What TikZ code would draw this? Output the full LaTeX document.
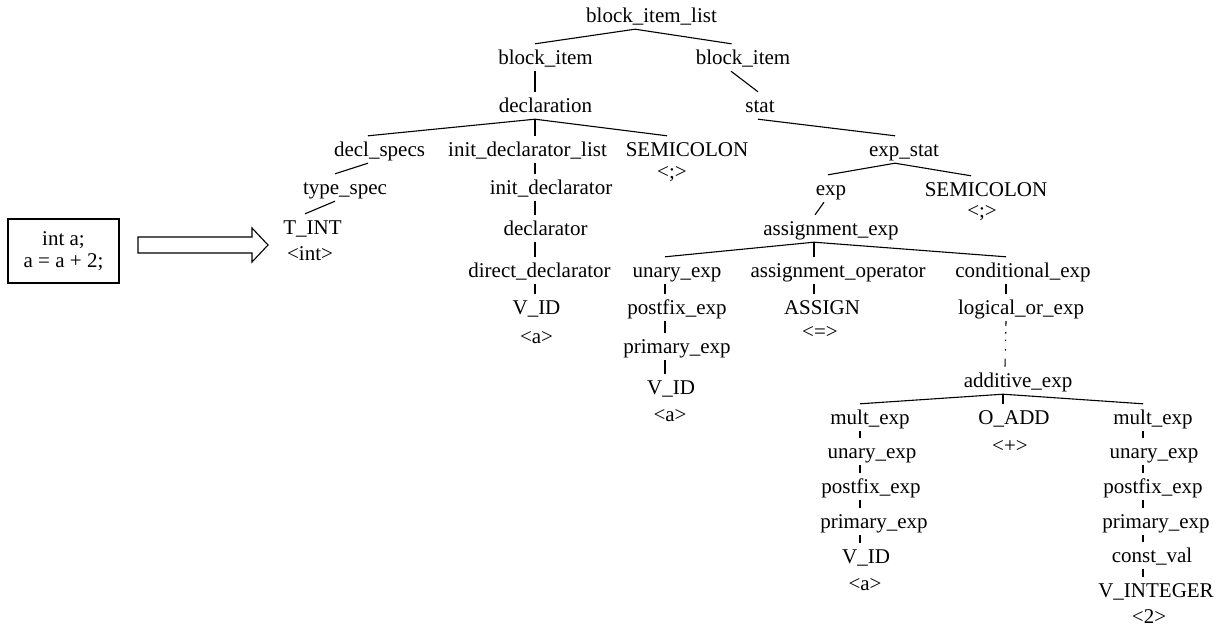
\documentclass[tikz,border=0pt]{standalone}
\usepackage{fontspec}
\setmainfont{Liberation Serif}
\begin{document}
\begin{tikzpicture}[x=1pt,y=-1pt,
  lbl/.style={inner sep=0pt,anchor=base,text height=20pt,text depth=7pt,font=\fontsize{21}{25}\selectfont},
  edge/.style={line width=1.1pt},
  dotedge/.style={line width=1.1pt,dash pattern=on 5pt off 6pt on 1.5pt off 6pt on 1.5pt off 8pt on 1.5pt off 8pt on 8pt}]
\useasboundingbox (0,0) rectangle (1221,629);
% source box and arrow
\node[draw,line width=1.1pt,minimum width=111pt,minimum height=64pt,inner sep=0pt,align=center,
  font=\fontsize{21}{22}\selectfont] (src) at (63.5,251) {int a;\\a = a + 2;};
\draw[line width=1.1pt] (138,237) -- (252,237) -- (252,228) -- (268,245) -- (252,262) -- (252,253) -- (138,253) -- cycle;
% nodes
\node[lbl] (n0) at (651.5,22) {block\_item\_list};
\node[lbl] (n1) at (545.5,64) {block\_item};
\node[lbl] (n2) at (743,64) {block\_item};
\node[lbl] (n3) at (545.5,112) {declaration};
\node[lbl] (n4) at (760,112) {stat};
\node[lbl] (n5) at (379.5,156) {decl\_specs};
\node[lbl] (n6) at (527.5,156) {init\_declarator\_list};
\node[lbl] (n7) at (687,156) {SEMICOLON};
\node[lbl] (n7b) at (672,178) {<;>};
\node[lbl] (n8) at (904,156) {exp\_stat};
\node[lbl] (n9) at (345,194) {type\_spec};
\node[lbl] (n10) at (551,194) {init\_declarator};
\node[lbl] (n11) at (831,195) {exp};
\node[lbl] (n12) at (986,196) {SEMICOLON};
\node[lbl] (n12b) at (982,217) {<;>};
\node[lbl] (n13) at (312.5,234) {T\_INT};
\node[lbl] (n13b) at (310,260) {<int>};
\node[lbl] (n14) at (545.5,235) {declarator};
\node[lbl] (n15) at (831,235) {assignment\_exp};
\node[lbl] (n16) at (539.5,277) {direct\_declarator};
\node[lbl] (n17) at (677,277) {unary\_exp};
\node[lbl] (n18) at (838,277) {assignment\_operator};
\node[lbl] (n19) at (1023,277) {conditional\_exp};
\node[lbl] (n20) at (536.5,314) {V\_ID};
\node[lbl] (n20b) at (536.5,343) {<a>};
\node[lbl] (n21) at (677,314) {postfix\_exp};
\node[lbl] (n22) at (822,314) {ASSIGN};
\node[lbl] (n22b) at (820,338) {<=>};
\node[lbl] (n23) at (1021,314) {logical\_or\_exp};
\node[lbl] (n24) at (677,353) {primary\_exp};
\node[lbl] (n25) at (671,394) {V\_ID};
\node[lbl] (n25b) at (670,421) {<a>};
\node[lbl] (n26) at (1018,387) {additive\_exp};
\node[lbl] (n27) at (870,424) {mult\_exp};
\node[lbl] (n28) at (1014,424) {O\_ADD};
\node[lbl] (n28b) at (1010,452) {<+>};
\node[lbl] (n29) at (1153,424) {mult\_exp};
\node[lbl] (n30) at (872,458) {unary\_exp};
\node[lbl] (n31) at (871,493) {postfix\_exp};
\node[lbl] (n32) at (874,528) {primary\_exp};
\node[lbl] (n33) at (866,563) {V\_ID};
\node[lbl] (n33b) at (865,590) {<a>};
\node[lbl] (n34) at (1154,458) {unary\_exp};
\node[lbl] (n35) at (1153,493) {postfix\_exp};
\node[lbl] (n36) at (1156,528) {primary\_exp};
\node[lbl] (n37) at (1152,562) {const\_val};
\node[lbl] (n38) at (1156,597) {V\_INTEGER};
\node[lbl] (n38b) at (1149,623) {<2>};
% edges
\draw[edge] ([xshift=-16.5pt]n0.south) -- ([xshift=-10.5pt]n1.north);
\draw[edge] ([xshift=-16.5pt]n0.south) -- ([xshift=-11.5pt]n2.north);
\draw[edge] ([xshift=-10.5pt]n1.south) -- ([xshift=-10.5pt]n3.north);
\draw[edge] ([xshift=-12pt]n2.south) -- ([xshift=-2pt]n4.north);
\draw[edge] ([xshift=-10.5pt]n3.south) -- ([xshift=-11.5pt]n5.north);
\draw[edge] ([xshift=-10.5pt]n3.south) -- ([xshift=7.5pt]n6.north);
\draw[edge] ([xshift=-10.5pt]n3.south) -- ([xshift=-20pt]n7.north);
\draw[edge] ([xshift=-2pt]n4.south) -- ([xshift=-9pt]n8.north);
\draw[edge] ([xshift=-11.5pt]n5.south) -- ([xshift=-10pt]n9.north);
\draw[edge] ([xshift=7.5pt]n6.south) -- ([xshift=-16pt]n10.north);
\draw[edge] ([xshift=-9pt]n8.south) -- ([xshift=-3pt]n11.north);
\draw[edge] ([xshift=-9pt]n8.south) -- ([xshift=-15pt]n12.north);
\draw[edge] ([xshift=-10pt]n9.south) -- ([xshift=-7.5pt]n13.north);
\draw[edge] ([xshift=-16pt]n10.south) -- ([xshift=-10.5pt]n14.north);
\draw[edge] ([xshift=-7pt]n11.south) -- ([xshift=-16pt]n15.north);
\draw[edge] ([xshift=-10.5pt]n14.south) -- ([xshift=-4.5pt]n16.north);
\draw[edge] ([xshift=-17pt]n15.south) -- ([xshift=-12pt]n17.north);
\draw[edge] ([xshift=-17pt]n15.south) -- ([xshift=-24pt]n18.north);
\draw[edge] ([xshift=-17pt]n15.south) -- ([xshift=-17pt]n19.north);
\draw[edge] ([xshift=-4.5pt]n16.south) -- ([xshift=-1.5pt]n20.north);
\draw[edge] ([xshift=-12pt]n17.south) -- ([xshift=-12pt]n21.north);
\draw[edge] ([xshift=-24pt]n18.south) -- ([xshift=-8pt]n22.north);
\draw[edge] ([xshift=-17pt]n19.south) -- ([xshift=-15pt]n23.north);
\draw[edge] ([xshift=-12pt]n21.south) -- ([xshift=-12pt]n24.north);
\draw[edge] ([xshift=-12pt]n24.south) -- ([xshift=-6pt]n25.north);
\draw[dotedge] ([xshift=-15pt]n23.south) -- ([xshift=-13pt]n26.north);
\draw[edge] ([xshift=-15pt]n26.south) -- ([xshift=-10pt]n27.north);
\draw[edge] ([xshift=-15pt]n26.south) -- ([xshift=-11pt]n28.north);
\draw[edge] ([xshift=-15pt]n26.south) -- ([xshift=-10pt]n29.north);
\draw[edge] ([xshift=-10pt]n27.south) -- ([xshift=-12pt]n30.north);
\draw[edge] ([xshift=-12pt]n30.south) -- ([xshift=-11pt]n31.north);
\draw[edge] ([xshift=-11pt]n31.south) -- ([xshift=-14pt]n32.north);
\draw[edge] ([xshift=-14pt]n32.south) -- ([xshift=-6pt]n33.north);
\draw[edge] ([xshift=-10pt]n29.south) -- ([xshift=-11pt]n34.north);
\draw[edge] ([xshift=-11pt]n34.south) -- ([xshift=-10pt]n35.north);
\draw[edge] ([xshift=-10pt]n35.south) -- ([xshift=-13pt]n36.north);
\draw[edge] ([xshift=-13pt]n36.south) -- ([xshift=-9pt]n37.north);
\draw[edge] ([xshift=-9pt]n37.south) -- ([xshift=-13pt]n38.north);
\end{tikzpicture}
\end{document}
